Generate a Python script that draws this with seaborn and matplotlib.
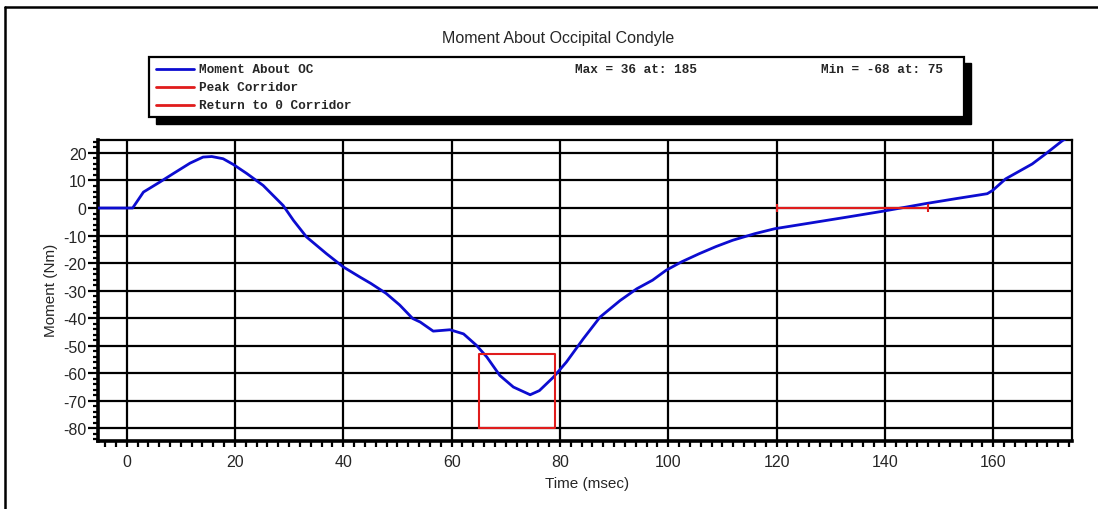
import matplotlib
matplotlib.use("Agg")
import matplotlib.pyplot as plt
import seaborn as sns
import pandas as pd
from matplotlib.patches import Rectangle
from matplotlib.lines import Line2D
from matplotlib.ticker import MultipleLocator

# values
time_ms = [-6, 1.1, 3.1, 6.1, 8.6, 11.7, 14.1, 15.7, 17.8, 19.7, 22.2, 25.2, 28.9,
           30.8, 33.2, 36.9, 40.0, 43.1, 45.1, 47.9, 50.4, 52.8, 54.2, 56.6, 59.7,
           62.2, 64.6, 66.5, 68.9, 71.4, 74.5, 76.2, 78.8, 81.2, 84.3, 87.4, 91.1,
           94.2, 97.1, 99.6, 102.5, 105.7, 108.8, 111.9, 116.0, 119.7, 127.3, 133.0,
           139.5, 147.5, 153.1, 158.9, 159.9, 162.3, 167.2, 169.7, 172.8, 176.0]
moment_nm = [0, 0, 5.8, 9.4, 12.5, 16.3, 18.5, 18.7, 17.9, 15.8, 12.5, 8.2, 0.9,
             -4.5, -10.5, -16.6, -21.4, -25.1, -27.4, -31.0, -35.2, -40.1, -41.4, -44.7, -44.2,
             -45.7, -49.9, -54.1, -60.8, -65.0, -67.8, -66.3, -61.4, -55.9, -47.5, -39.6, -33.6,
             -29.3, -26.2, -22.6, -19.5, -16.6, -14.0, -11.7, -9.3, -7.5, -5.1, -3.3,
             -1.2, 1.6, 3.4, 5.2, 6.4, 10.6, 16.0, 19.7, 24.5, 28.0]

peak_x = [65, 65, 79, 79, 65]
peak_y = [-80, -53, -53, -80, -80]
zero_x = [120, 148]
zero_y = [0, 0]

x_ticks = [0, 20, 40, 60, 80, 100, 120, 140, 160]
y_ticks = [-80, -70, -60, -50, -40, -30, -20, -10, 0, 10, 20]

title = "Moment About Occipital Condyle"
legend_labels = ["Moment About OC", "Peak Corridor", "Return to 0 Corridor"]
max_text = "Max = 36 at: 185"
min_text = "Min = -68 at: 75"

BLUE = "#0c0cd0"
RED = "#e01c1c"

sns.set_style("white")
plt.rcParams['font.family'] = ['Liberation Sans', 'DejaVu Sans']
plt.rcParams['axes.unicode_minus'] = False

W, H = 1098, 510
fig = plt.figure(figsize=(W / 100, H / 100), dpi=100)


def fx(px):
    return px / W


def fy(py):
    return 1 - py / H


# outer frame (only left and top edges are inside the picture)
fig.add_artist(Line2D([fx(5), fx(5)], [fy(8), 0], transform=fig.transFigure, color="black", lw=1.8))
fig.add_artist(Line2D([fx(5), 1], [fy(8), fy(8)], transform=fig.transFigure, color="black", lw=1.8))

fig.text(fx(558), fy(43), title, ha="center", va="baseline", fontsize=11.5)

# legend box with drop shadow
fig.add_artist(Rectangle((fx(156), fy(125)), fx(971) - fx(156), fy(64) - fy(125),
                         transform=fig.transFigure, facecolor="black", edgecolor="black"))
fig.add_artist(Rectangle((fx(149), fy(118)), fx(964) - fx(149), fy(58) - fy(118),
                         transform=fig.transFigure, facecolor="white", edgecolor="black", lw=1.6))
for row, (lab, col) in enumerate(zip(legend_labels, [BLUE, RED, RED])):
    yy = fy(70 + row * 18)
    fig.add_artist(Line2D([fx(156), fx(194)], [yy, yy], transform=fig.transFigure, color=col, lw=2))
    fig.text(fx(199), yy, lab, ha="left", va="center", fontsize=9.2,
             family="Liberation Mono", fontweight="bold")
fig.text(fx(575), fy(70), max_text, ha="left", va="center", fontsize=9.2,
         family="Liberation Mono", fontweight="bold")
fig.text(fx(821), fy(70), min_text, ha="left", va="center", fontsize=9.2,
         family="Liberation Mono", fontweight="bold")

ax = fig.add_axes([fx(97.7), fy(442.3), fx(1072.3) - fx(97.7), fy(141) - fy(442.3)])

df = pd.DataFrame({"Time": time_ms, "Moment": moment_nm})
sns.lineplot(data=df, x="Time", y="Moment", ax=ax, color=BLUE, linewidth=2.0, zorder=3,
             solid_joinstyle="round", solid_capstyle="round")
ax.plot(peak_x, peak_y, color=RED, lw=1.5, zorder=4)
ax.plot(zero_x, zero_y, color=RED, lw=1.5, marker="|", ms=6, mew=1.5, zorder=4)

ax.set_xlim(-5.35, 174.6)
ax.set_ylim(-84.7, 24.7)
ax.set_xticks(x_ticks)
ax.set_yticks(y_ticks)
ax.xaxis.set_minor_locator(MultipleLocator(2))
ax.yaxis.set_minor_locator(MultipleLocator(2))
ax.grid(True, which="major", color="black", lw=1.6)
ax.set_axisbelow(True)

ax.tick_params(axis="x", which="both", direction="out", bottom=True, length=4, width=1.6,
               labelsize=11.5, pad=5.5, color="black")
ax.tick_params(axis="y", which="major", direction="out", left=True, length=7, width=1.6,
               labelsize=11.5, pad=1, color="black")
ax.tick_params(axis="y", which="minor", direction="out", left=True, length=3.5, width=1.6, color="black")

for s in ax.spines.values():
    s.set_color("black")
    s.set_linewidth(1.6)
ax.spines["left"].set_linewidth(2.6)
ax.spines["bottom"].set_linewidth(2.6)

ax.set_xlabel("Time (msec)", fontsize=11, va="center")
ax.xaxis.set_label_coords((587 - 97.7) / (1072.3 - 97.7), (442.3 - 484.5) / (442.3 - 141))
ax.set_ylabel("Moment (Nm)", fontsize=11, va="center")
ax.yaxis.set_label_coords((51 - 97.7) / (1072.3 - 97.7), (442.3 - 290) / (442.3 - 141))

fig.savefig("out.png", dpi=100)
